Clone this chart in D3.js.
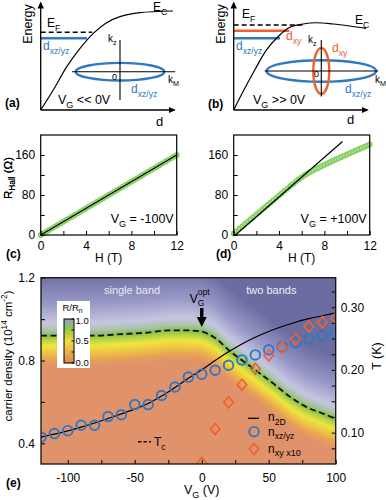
<!DOCTYPE html>
<html><head><meta charset="utf-8">
<script src="https://cdn.jsdelivr.net/npm/d3@7"></script>
<style>html,body{margin:0;padding:0;background:#fff;}svg{display:block;font-family:"Liberation Sans",Arial,Helvetica,sans-serif;}</style>
</head><body>
<svg id="c" width="386" height="500"></svg>
<script>
// ---------------- DATA ----------------
// (a)/(b) schematic band bending: depth d (0..1) vs energy E (0..1)
const bandA_d = [0, 0.095, 0.196, 0.297, 0.398, 0.499, 0.6, 0.751, 1.0];
const bandA_E = [0, 0.19, 0.41, 0.587, 0.73, 0.832, 0.889, 0.927, 0.943];
const bandB_d = [0, 0.07, 0.159, 0.247, 0.335, 0.424, 0.524, 0.625, 0.751, 0.877, 1.0];
const bandB_E = [0, 0.174, 0.381, 0.571, 0.698, 0.788, 0.819, 0.831, 0.819, 0.8, 0.778];
// Fermi surfaces (k units)
const fsA_rx = [1.11], fsA_ry = [0.22];
const fsB_rx = [1.37, 0.2], fsB_ry = [0.27, 0.575];

// (c) Hall resistance, VG = -100 V
const hallH = [0,0.25,0.5,0.75,1,1.25,1.5,1.75,2,2.25,2.5,2.75,3,3.25,3.5,3.75,4,4.25,4.5,4.75,5,5.25,5.5,5.75,6,6.25,6.5,6.75,7,7.25,7.5,7.75,8,8.25,8.5,8.75,9,9.25,9.5,9.75,10,10.25,10.5,10.75,11,11.25,11.5,11.75,12];
const hallC_R = [0,3.3,6.7,10,13.3,16.7,20,23.3,26.7,30,33.3,36.7,40,43.3,46.7,50,53.3,56.7,60,63.3,66.7,70,73.3,76.7,80,83.3,86.7,90,93.3,96.7,100,103.3,106.7,110,113.3,116.7,120,123.3,126.7,130,133.3,136.7,140,143.3,146.7,150,153.3,156.7,160];
const fitC_H = [0, 12], fitC_R = [0, 160];
// (d) Hall resistance, VG = +100 V
const hallD_R = [3,7.5,12.5,17,22,26.5,31.5,36,41,45.5,50.5,55,60,64.5,69.5,74,79,83.5,88.5,93,98,102,107,111.5,115.5,119.5,123,126,129,132,134.5,137.5,140,143,145.5,148.5,151,153.5,156,158.5,161,163.5,166,168.5,171,173.5,176,178.5,181];
const fitD_H = [0.15, 9.6], fitD_R = [0, 187];

// (e) phase diagram
const vgTicks = [-100,-75,-50,-25,0,25,50,75,100];
const nTicks = [0.4,0.6,0.8,1.0,1.2];
const tTicks = [0.075,0.1,0.125,0.15,0.175,0.2,0.225,0.25,0.275,0.3,0.325];
const tcV = [-120,-80,-60,-40,-25,-10,0,6,10,21,38,53,66,78,91,100];
const tcT = [0.2547,0.2547,0.257,0.2596,0.263,0.263,0.261,0.256,0.251,0.230,0.203,0.179,0.157,0.141,0.130,0.122];
const n2dV = [-120,-110,-100,-90,-80,-70,-60,-50,-40,-30,-20,-10,0,10,20,30,40,50,60,70,80,90,100];
const n2dN = [0.43,0.444,0.46,0.478,0.498,0.52,0.542,0.565,0.592,0.628,0.67,0.714,0.755,0.80,0.842,0.88,0.912,0.94,0.964,0.985,1.002,1.016,1.03];
const nxzV = [-120,-110,-100,-90,-80,-70,-60,-50,-40,-30,-20,-10,0,10,20,30,40,50,60,70,80,90,100];
const nxzN = [0.430,0.447,0.461,0.487,0.487,0.529,0.538,0.587,0.587,0.631,0.672,0.720,0.734,0.753,0.777,0.803,0.827,0.852,0.867,0.887,0.905,0.919,0.932];
const nxyV = [0,10,20,30,40,50,60,70,80,90,100];
const nxyN = [0.305,0.469,0.598,0.683,0.76,0.825,0.863,0.903,0.964,0.985,1.004];
const VGopt = 0;
// colour map of R/Rn vs distance (T - Tc)
const sStops  = [-0.05,-0.038,-0.026,-0.016,-0.007,0.0,0.008,0.02,0.05,0.1];
const sColors = ['#e0926a','#e8a256','#f0c842','#eee63e','#b9d446','#88be4e','#aac4a8','#c6c6e2','#9a9ac8','#6b6ca0'];
const cbStops  = [0, 0.25, 0.5, 0.7, 0.82, 1.0];
const cbColors = ['#d8874e','#e9b04a','#efe03e','#a8cc44','#8cbf66','#9a9ad6'];

// ---------------- HELPERS ----------------
const blue = '#2f78c4', red = '#f0602e', green = '#86cf62';
const svg = d3.select('#c');
const defs = svg.append('defs');
defs.append('marker').attr('id','arr').attr('viewBox','0 0 10 10').attr('refX',8).attr('refY',5)
  .attr('markerWidth',5.5).attr('markerHeight',5.5).attr('orient','auto')
  .append('path').attr('d','M0,0.5L10,5L0,9.5z').attr('fill','#000');

function rich(parent, x, y, parts, o = {}) {
  const size = o.size || 12;
  const t = parent.append('text').attr('x', x).attr('y', y).attr('font-size', size)
    .attr('text-anchor', o.anchor || 'start').attr('fill', o.fill || '#000');
  if (o.weight) t.attr('font-weight', o.weight);
  if (o.rotate) t.attr('transform', `rotate(${o.rotate},${x},${y})`);
  let cur = 0;
  parts.forEach(([s, type]) => {
    const target = type === 'sub' ? size * 0.3 : type === 'sup' ? -size * 0.42 : 0;
    const ts = t.append('tspan').text(s).attr('dy', target - cur);
    cur = target;
    if (type) ts.attr('font-size', size * (o.subScale || 0.72));
  });
  return t;
}

// ---------------- (a) (b) schematics ----------------
function schematic(o) {
  const g = svg.append('g');
  const x = d3.scaleLinear([0, 1], [o.x0, o.x0 + 132.3]);
  const y = d3.scaleLinear([0, 1], [110, 5]);
  o.levels.forEach(l => {
    g.append('line').attr('x1', x(0)).attr('x2', x(l.d)).attr('y1', y(l.E)).attr('y2', y(l.E))
      .attr('stroke', l.color).attr('stroke-width', l.w).attr('stroke-dasharray', l.dash || null);
  });
  const pts = o.bd.map((d, i) => [d, o.bE[i]]);
  g.append('path').attr('d', d3.line().x(d => x(d[0])).y(d => y(d[1])).curve(d3.curveCatmullRom)(pts))
    .attr('fill', 'none').attr('stroke', '#000').attr('stroke-width', 1.2);
  g.append('line').attr('x1', x(0)).attr('y1', y(0)).attr('x2', x(0)).attr('y2', y(1.02))
    .attr('stroke', '#000').attr('stroke-width', 1.3).attr('marker-end', 'url(#arr)');
  g.append('line').attr('x1', x(0)).attr('y1', y(0)).attr('x2', x(1.01)).attr('y2', y(0))
    .attr('stroke', '#000').attr('stroke-width', 1.3).attr('marker-end', 'url(#arr)');
  const kx = d3.scaleLinear([0, 1], [o.kc[0], o.kc[0] + 40]);
  const kz = d3.scaleLinear([0, 1], [o.kc[1], o.kc[1] - 40]);
  o.fsRx.forEach((rx, i) => {
    g.append('ellipse').attr('cx', kx(0)).attr('cy', kz(0))
      .attr('rx', kx(rx) - kx(0)).attr('ry', kz(0) - kz(o.fsRy[i]))
      .attr('fill', 'none').attr('stroke', o.fsC[i]).attr('stroke-width', 2.4);
  });
  g.append('line').attr('x1', kx(o.kxr[0])).attr('x2', kx(o.kxr[1])).attr('y1', kz(0)).attr('y2', kz(0))
    .attr('stroke', '#000').attr('stroke-width', 1.1);
  g.append('line').attr('x1', kx(0)).attr('x2', kx(0)).attr('y1', kz(o.kzr[0])).attr('y2', kz(o.kzr[1]))
    .attr('stroke', '#000').attr('stroke-width', 1.1);
  o.texts.forEach(t => rich(g, t.x, t.y, t.p, t.o || {}));
}

schematic({
  x0: 40.7, bd: bandA_d, bE: bandA_E,
  levels: [{E: 0.74, d: 0.39, color: '#000', w: 1.6, dash: '5,3'}, {E: 0.683, d: 0.35, color: blue, w: 2.6}],
  kc: [120, 71.7], kxr: [-1.2, 1.38], kzr: [-0.71, 0.79],
  fsRx: fsA_rx, fsRy: fsA_ry, fsC: [blue],
  texts: [
    {x: 32, y: 24, p: [['Energy','']], o: {rotate: -90, anchor: 'middle', size: 12.5}},
    {x: 47, y: 27, p: [['E',''],['F','sub']], o: {size: 12}},
    {x: 153, y: 11, p: [['E',''],['C','sub']], o: {size: 12}},
    {x: 43, y: 50, p: [['d',''],['xz/yz','sub']], o: {size: 12, fill: blue}},
    {x: 108, y: 42, p: [['k',''],['z','sub']], o: {size: 10}},
    {x: 112, y: 80, p: [['0','']], o: {size: 9}},
    {x: 168, y: 83, p: [['k',''],['M','sub']], o: {size: 10}},
    {x: 131, y: 93, p: [['d',''],['xz/yz','sub']], o: {size: 12, fill: blue}},
    {x: 58, y: 104, p: [['V',''],['G','sub'],[' << 0V','']], o: {size: 12.5}},
    {x: 5, y: 107, p: [['(a)','']], o: {size: 12, weight: 'bold'}},
    {x: 156, y: 126, p: [['d','']], o: {size: 13}}
  ]
});

schematic({
  x0: 233.7, bd: bandB_d, bE: bandB_E,
  levels: [{E: 0.81, d: 0.52, color: '#000', w: 1.6, dash: '5,3'}, {E: 0.755, d: 0.42, color: red, w: 2.6}, {E: 0.683, d: 0.35, color: blue, w: 2.6}],
  kc: [321.3, 71], kxr: [-1.415, 1.42], kzr: [-0.64, 0.775],
  fsRx: fsB_rx, fsRy: fsB_ry, fsC: [blue, red],
  texts: [
    {x: 225, y: 24, p: [['Energy','']], o: {rotate: -90, anchor: 'middle', size: 12.5}},
    {x: 242, y: 18, p: [['E',''],['F','sub']], o: {size: 12}},
    {x: 355, y: 24, p: [['E',''],['C','sub']], o: {size: 12}},
    {x: 236, y: 50, p: [['d',''],['xz/yz','sub']], o: {size: 12, fill: blue}},
    {x: 286, y: 40, p: [['d',''],['xy','sub']], o: {size: 12, fill: red}},
    {x: 332, y: 52, p: [['d',''],['xy','sub']], o: {size: 12, fill: red}},
    {x: 308, y: 43, p: [['k',''],['z','sub']], o: {size: 10}},
    {x: 314, y: 77, p: [['0','']], o: {size: 9}},
    {x: 375, y: 83, p: [['k',''],['M','sub']], o: {size: 10}},
    {x: 345, y: 93, p: [['d',''],['xz/yz','sub']], o: {size: 12, fill: blue}},
    {x: 253, y: 104, p: [['V',''],['G','sub'],[' >> 0V','']], o: {size: 12.5}},
    {x: 208, y: 108, p: [['(b)','']], o: {size: 12, weight: 'bold'}},
    {x: 347, y: 124, p: [['d','']], o: {size: 13}}
  ]
});

// ---------------- (c) (d) Hall ----------------
function hall(o) {
  const g = svg.append('g');
  const x = d3.scaleLinear([0, 12], [o.left, o.left + 136]);
  const y = d3.scaleLinear([0, 200], [235, 135]);
  g.append('g').selectAll('circle').data(hallH.map((h, i) => [h, o.R[i]])).join('circle')
    .attr('cx', d => x(d[0])).attr('cy', d => y(d[1])).attr('r', 2.2)
    .attr('fill', '#b4e29c').attr('stroke', green).attr('stroke-width', 1.5);
  g.append('path').attr('d', d3.line().x(d => x(d[0])).y(d => y(d[1]))(o.fH.map((h, i) => [h, o.fR[i]])))
    .attr('stroke', '#000').attr('stroke-width', 1.2).attr('fill', 'none');
  g.append('rect').attr('x', x(0)).attr('y', y(200)).attr('width', x(12) - x(0)).attr('height', y(0) - y(200))
    .attr('fill', 'none').attr('stroke', '#000').attr('stroke-width', 1.2);
  const ax = g.append('g').attr('transform', `translate(0,${y(0)})`)
    .call(d3.axisBottom(x).tickValues([0,2,4,6,8,10,12]).tickFormat(d => d % 4 === 0 ? d : '')
      .tickSize(-4).tickSizeOuter(0).tickPadding(6.5));
  const ay = g.append('g').attr('transform', `translate(${x(0)},0)`)
    .call(d3.axisLeft(y).tickValues([0,40,80,120,160]).tickFormat(d => d % 80 === 0 ? d : '')
      .tickSize(-4).tickSizeOuter(0).tickPadding(5.5));
  [ax, ay].forEach(a => { a.selectAll('text').attr('font-size', 12).attr('font-family', null).attr('fill', '#000');
    a.select('.domain').remove(); a.selectAll('line').attr('stroke-width', 1); });
  rich(g, 12, 178, [['R',''],['Hall','sub'],[' (\u03A9)','']], {rotate: -90, anchor: 'middle', size: 11.5});
  rich(g, x(6), 262, [['H (T)','']], {anchor: 'middle', size: 12});
  rich(g, x(12) - 3, 223, [['V',''],['G','sub'],[o.vg,'']], {anchor: 'end', size: 12.5});
  rich(g, o.lx, 258, [[o.label,'']], {size: 12, weight: 'bold'});
}
hall({left: 40.7, R: hallC_R, fH: fitC_H, fR: fitC_R, vg: ' = -100V', label: '(c)', lx: 6});
hall({left: 233.7, R: hallD_R, fH: fitD_H, fR: fitD_R, vg: ' = +100V', label: '(d)', lx: 216});

// ---------------- (e) phase diagram ----------------
const gE = svg.append('g');
const xE = d3.scaleLinear([-120, 100], [41, 335.7]);
const yE = d3.scaleLinear([0.3, 1.2], [464, 277.7]);
const tE = d3.scaleLinear([0.05, 0.347], [464, 277.7]);
const tcAt = d3.scaleLinear(tcV, tcT).clamp(true);
const sCol = d3.scaleLinear(sStops, sColors).clamp(true);

(function () {
  const x0 = xE.range()[0], x1 = xE.range()[1], yb = yE.range()[0], yt = yE.range()[1];
  const cw = Math.round(x1 - x0), ch = Math.round(yb - yt);
  const cv = document.createElement('canvas'); cv.width = cw; cv.height = ch;
  const ctx = cv.getContext('2d'); const img = ctx.createImageData(cw, ch);
  for (let i = 0; i < cw; i++) {
    const V = xE.invert(x0 + i + 0.5), tc = tcAt(V);
    for (let j = 0; j < ch; j++) {
      const T = tE.invert(yt + j + 0.5);
      const c = d3.rgb(sCol(T - tc));
      const k = (j * cw + i) * 4;
      img.data[k] = c.r; img.data[k + 1] = c.g; img.data[k + 2] = c.b; img.data[k + 3] = 255;
    }
  }
  ctx.putImageData(img, 0, 0);
  gE.append('image').attr('href', cv.toDataURL()).attr('x', x0).attr('y', yt)
    .attr('width', x1 - x0).attr('height', yb - yt).attr('preserveAspectRatio', 'none');
})();

defs.append('clipPath').attr('id', 'clipE').append('rect')
  .attr('x', xE(-120)).attr('y', yE(1.2)).attr('width', xE(100) - xE(-120)).attr('height', yE(0.3) - yE(1.2));
const dataE = gE.append('g').attr('clip-path', 'url(#clipE)');

dataE.append('path').attr('d', d3.line().x(d => xE(d[0])).y(d => tE(d[1])).curve(d3.curveMonotoneX)(tcV.map((v, i) => [v, tcT[i]])))
  .attr('fill', 'none').attr('stroke', '#111').attr('stroke-width', 1.8).attr('stroke-dasharray', '6,3.5');
dataE.append('path').attr('d', d3.line().x(d => xE(d[0])).y(d => yE(d[1])).curve(d3.curveMonotoneX)(n2dV.map((v, i) => [v, n2dN[i]])))
  .attr('fill', 'none').attr('stroke', '#000').attr('stroke-width', 1.2);
dataE.append('g').selectAll('circle').data(nxzV.map((v, i) => [v, nxzN[i]])).join('circle')
  .attr('cx', d => xE(d[0])).attr('cy', d => yE(d[1])).attr('r', 4.8)
  .attr('fill', 'none').attr('stroke', blue).attr('stroke-width', 1.9);
const diamond = (cx, cy, r) => `M${cx},${cy - r}L${cx + r * 0.85},${cy}L${cx},${cy + r}L${cx - r * 0.85},${cy}Z`;
dataE.append('g').selectAll('path').data(nxyV.map((v, i) => [v, nxyN[i]])).join('path')
  .attr('d', d => diamond(xE(d[0]), yE(d[1]), 5.6))
  .attr('fill', 'none').attr('stroke', red).attr('stroke-width', 1.6);

gE.append('rect').attr('x', xE(-120)).attr('y', yE(1.2)).attr('width', xE(100) - xE(-120)).attr('height', yE(0.3) - yE(1.2))
  .attr('fill', 'none').attr('stroke', '#111').attr('stroke-width', 1.3);

const axB = gE.append('g').attr('transform', `translate(0,${yE(0.3)})`)
  .call(d3.axisBottom(xE).tickValues(vgTicks).tickFormat(d => d % 50 === 0 ? d : '').tickSize(-4).tickSizeOuter(0).tickPadding(9));
const axL = gE.append('g').attr('transform', `translate(${xE(-120)},0)`)
  .call(d3.axisLeft(yE).tickValues(nTicks).tickFormat(d => [0.4, 0.8, 1.2].includes(d) ? d3.format('.1f')(d) : '').tickSize(-4).tickSizeOuter(0).tickPadding(6));
const axR = gE.append('g').attr('transform', `translate(${xE(100)},0)`)
  .call(d3.axisRight(tE).tickValues(tTicks).tickFormat(d => [0.1, 0.2, 0.3].includes(d) ? d3.format('.2f')(d) : '').tickSize(-4).tickSizeOuter(0).tickPadding(5));
[axB, axL, axR].forEach(a => { a.select('.domain').remove(); a.selectAll('text').attr('font-size', 12).attr('font-family', null).attr('fill', '#000');
  a.selectAll('line').attr('stroke-width', 1.1).attr('stroke', '#111'); });

rich(gE, 12, 356, [['carrier density (10',''],['14','sup'],[' cm',''],['-2','sup'],[')','']], {rotate: -90, anchor: 'middle', size: 11.5});
rich(gE, 381, 356, [['T (K)','']], {rotate: -90, anchor: 'middle', size: 12.5});
rich(gE, xE(0), 494, [['V',''],['G','sub'],[' (V)','']], {anchor: 'middle', size: 12.5});
rich(gE, 6, 487, [['(e)','']], {size: 12, weight: 'bold'});
rich(gE, xE(-52), 294, [['single band','']], {anchor: 'middle', size: 11, fill: '#e8e8f4'});
rich(gE, xE(52), 294, [['two bands','']], {anchor: 'middle', size: 11, fill: '#eeeef8'});

const axX = xE(VGopt);
gE.append('path').attr('d', `M${axX - 1.7},${yE(1.054)}L${axX + 1.7},${yE(1.054)}L${axX + 1.7},${yE(1.01)}L${axX + 5},${yE(1.01)}L${axX},${yE(0.962)}L${axX - 5},${yE(1.01)}L${axX - 1.7},${yE(1.01)}Z`)
  .attr('fill', '#000');
gE.append('text').attr('x', axX - 12).attr('y', 303).attr('font-size', 12).text('V');
gE.append('text').attr('x', axX - 4).attr('y', 306).attr('font-size', 8.5).text('G');
gE.append('text').attr('x', axX - 4).attr('y', 295).attr('font-size', 8.5).text('opt');

const gradE = defs.append('linearGradient').attr('id', 'cbg').attr('x1', 0).attr('y1', 1).attr('x2', 0).attr('y2', 0);
cbStops.forEach((s, i) => gradE.append('stop').attr('offset', s).attr('stop-color', cbColors[i]));
const cbY = d3.scaleLinear([0, 1], [363, 319]);
gE.append('rect').attr('x', 57).attr('y', 301).attr('width', 33).attr('height', 67).attr('fill', '#fff');
rich(gE, 72.5, 310.5, [['R/R',''],['n','sub']], {anchor: 'middle', size: 9.5});
gE.append('rect').attr('x', 64).attr('y', cbY(1)).attr('width', 10).attr('height', cbY(0) - cbY(1))
  .attr('fill', 'url(#cbg)').attr('stroke', '#000').attr('stroke-width', 1);
[0, 0.25, 0.5, 0.75, 1].forEach(v => gE.append('line').attr('x1', 74).attr('x2', 71.5).attr('y1', cbY(v)).attr('y2', cbY(v)).attr('stroke', '#000'));
[0, 0.5, 1].forEach(v => gE.append('text').attr('x', 75.5).attr('y', cbY(v) + (v === 1 ? 1.5 : 0)).attr('dy', '0.35em').attr('font-size', 9.5).text(d3.format('.1f')(v)));

gE.append('line').attr('x1', 138).attr('x2', 151).attr('y1', 441.7).attr('y2', 441.7).attr('stroke', '#111').attr('stroke-width', 1.6).attr('stroke-dasharray', '3.5,2');
rich(gE, 154, 446, [['T',''],['c','sub']], {size: 12});
gE.append('line').attr('x1', 248).attr('x2', 259).attr('y1', 418.3).attr('y2', 418.3).attr('stroke', '#000').attr('stroke-width', 1.3);
rich(gE, 268, 421, [['n',''],['2D','sub']], {size: 12});
gE.append('circle').attr('cx', 254).attr('cy', 431.7).attr('r', 4.8).attr('fill', 'none').attr('stroke', blue).attr('stroke-width', 1.9);
rich(gE, 268, 435.5, [['n',''],['xz/yz','sub']], {size: 12});
gE.append('path').attr('d', diamond(254, 449, 5.6)).attr('fill', 'none').attr('stroke', red).attr('stroke-width', 1.6);
rich(gE, 268, 452.5, [['n',''],['xy','sub'],[' x10','sub']], {size: 12, subScale: 0.75});
</script>
</body></html>
